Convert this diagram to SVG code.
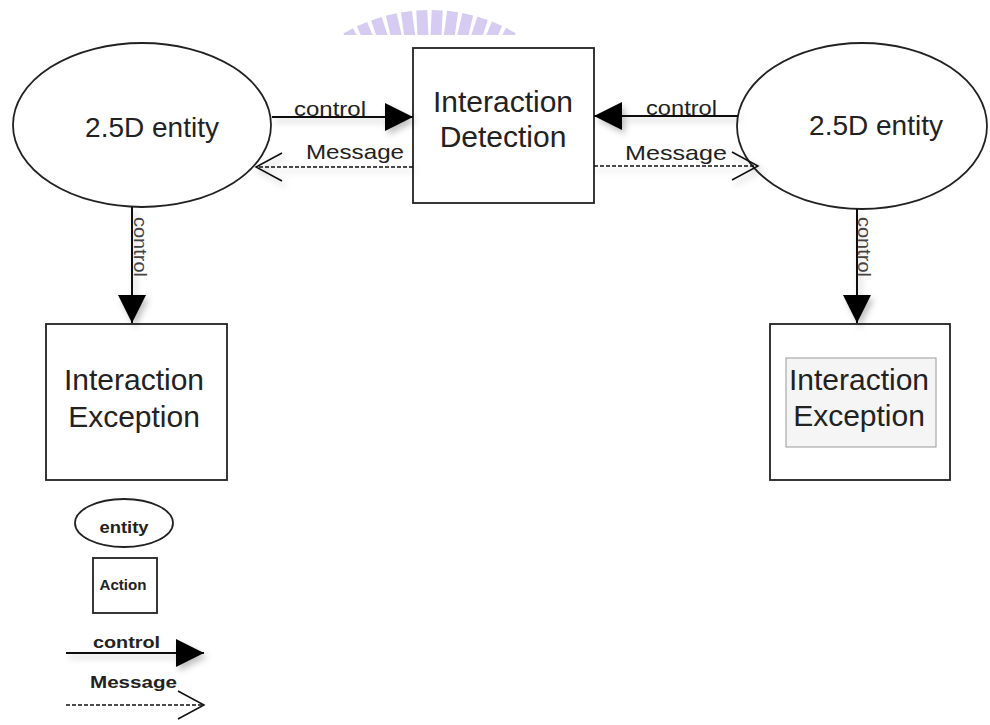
<svg xmlns="http://www.w3.org/2000/svg" width="990" height="725" viewBox="0 0 990 725">
<style>
  .txt { font-family: "Liberation Sans", Arial, sans-serif; fill: #222; }
  .big { font-size: 30px; }
  .mid { font-size: 28px; }
  .lbl { font-size: 21px; }
  .vlbl { font-size: 18px; fill: #444; }
  .leg { font-weight: bold; }
  .shape { fill: #fff; stroke: #222; stroke-width: 1.8; }
  .ctl { stroke: #111; stroke-width: 2; fill: none; marker-end: url(#solid); }
  .msg { stroke: #111; stroke-width: 1.5; stroke-dasharray: 4 2; fill: none; marker-end: url(#open); }
  .wm { fill: #d6cbf1; }
</style>
<defs>
  <marker id="solid" markerUnits="userSpaceOnUse" markerWidth="30" markerHeight="30" refX="28" refY="14" orient="auto" viewBox="0 0 30 30">
    <path d="M0,0 L28,14 L0,28 Z" fill="#000"/>
  </marker>
  <marker id="open" markerUnits="userSpaceOnUse" markerWidth="30" markerHeight="32" refX="27" refY="15" orient="auto" viewBox="0 0 30 32">
    <path d="M1,1 L27,15 L1,29" fill="none" stroke="#111" stroke-width="1.5"/>
  </marker>
  <filter id="shadow" filterUnits="userSpaceOnUse" x="0" y="0" width="990" height="725">
    <feDropShadow dx="3" dy="4" stdDeviation="3" flood-color="#000" flood-opacity="0.25"/>
  </filter>
  <clipPath id="wmclip"><rect x="300" y="0" width="260" height="35"/></clipPath>
</defs>
<rect width="990" height="725" fill="#fff"/>

<g id="watermark" clip-path="url(#wmclip)">
  <rect class="wm" x="424" y="10" width="11" height="30" transform="rotate(-28.6 430 180)"/>
  <rect class="wm" x="424" y="10" width="11" height="30" transform="rotate(-23.4 430 180)"/>
  <rect class="wm" x="424" y="10" width="11" height="30" transform="rotate(-18.2 430 180)"/>
  <rect class="wm" x="424" y="10" width="11" height="30" transform="rotate(-13 430 180)"/>
  <rect class="wm" x="424" y="10" width="11" height="30" transform="rotate(-7.8 430 180)"/>
  <rect class="wm" x="424" y="10" width="11" height="30" transform="rotate(-2.6 430 180)"/>
  <rect class="wm" x="424" y="10" width="11" height="30" transform="rotate(2.6 430 180)"/>
  <rect class="wm" x="424" y="10" width="11" height="30" transform="rotate(7.8 430 180)"/>
  <rect class="wm" x="424" y="10" width="11" height="30" transform="rotate(13 430 180)"/>
  <rect class="wm" x="424" y="10" width="11" height="30" transform="rotate(18.2 430 180)"/>
  <rect class="wm" x="424" y="10" width="11" height="30" transform="rotate(23.4 430 180)"/>
  <rect class="wm" x="424" y="10" width="11" height="30" transform="rotate(28.6 430 180)"/>
</g>

<g id="entity-left">
  <ellipse class="shape" cx="142" cy="125" rx="129" ry="82"/>
  <text class="txt mid" x="152" y="137" text-anchor="middle">2.5D entity</text>
</g>
<g id="interaction-detection">
  <rect class="shape" x="413" y="48" width="181" height="155"/>
  <text class="txt big" x="503" y="112" text-anchor="middle">Interaction</text>
  <text class="txt big" x="503" y="147" text-anchor="middle">Detection</text>
</g>
<g id="entity-right">
  <ellipse class="shape" cx="862" cy="126" rx="125" ry="83"/>
  <text class="txt mid" x="876" y="135" text-anchor="middle">2.5D entity</text>
</g>
<g id="exception-left">
  <rect class="shape" x="46" y="324" width="181" height="156"/>
  <text class="txt big" x="134" y="390" text-anchor="middle">Interaction</text>
  <text class="txt big" x="134" y="427" text-anchor="middle">Exception</text>
</g>
<g id="exception-right">
  <rect class="shape" x="770" y="324" width="180" height="156"/>
  <rect x="786" y="358" width="150" height="89" fill="#f5f5f5" stroke="#999" stroke-width="1"/>
  <text class="txt big" x="859" y="390" text-anchor="middle">Interaction</text>
  <text class="txt big" x="859" y="426" text-anchor="middle">Exception</text>
</g>

<g id="connectors">
  <g filter="url(#shadow)">
    <line class="ctl" x1="272" y1="117" x2="413" y2="117"/>
    <line class="ctl" x1="738" y1="116" x2="594" y2="116"/>
    <line class="msg" x1="413" y1="167" x2="256" y2="167"/>
    <line class="msg" x1="594" y1="166" x2="758" y2="166"/>
    <line class="ctl" x1="132" y1="207" x2="132" y2="323"/>
    <line class="ctl" x1="857" y1="209" x2="857" y2="323"/>
  </g>
  <text class="txt lbl" x="294" y="116" textLength="72" lengthAdjust="spacingAndGlyphs">control</text>
  <text class="txt lbl" x="306" y="159" textLength="98" lengthAdjust="spacingAndGlyphs">Message</text>
  <text class="txt lbl" x="646" y="115" textLength="71" lengthAdjust="spacingAndGlyphs">control</text>
  <text class="txt lbl" x="625" y="160" textLength="102" lengthAdjust="spacingAndGlyphs">Message</text>
  <text class="txt vlbl" x="0" y="0" transform="translate(134 217) rotate(90)" textLength="60" lengthAdjust="spacingAndGlyphs">control</text>
  <text class="txt vlbl" x="0" y="0" transform="translate(858 217) rotate(90)" textLength="60" lengthAdjust="spacingAndGlyphs">control</text>
</g>

<g id="legend">
  <g id="legend-entity">
    <ellipse class="shape" cx="124" cy="523" rx="49" ry="24"/>
    <text class="txt leg" x="124" y="533" font-size="16" text-anchor="middle" textLength="49" lengthAdjust="spacingAndGlyphs">entity</text>
  </g>
  <g id="legend-action">
    <rect class="shape" x="93" y="558" width="64" height="55"/>
    <text class="txt leg" x="123" y="590" font-size="14" text-anchor="middle" textLength="47" lengthAdjust="spacingAndGlyphs">Action</text>
  </g>
  <g id="legend-control">
    <line class="ctl" x1="66" y1="653" x2="204" y2="653" filter="url(#shadow)"/>
    <text class="txt leg" x="93" y="648" font-size="16" textLength="67" lengthAdjust="spacingAndGlyphs">control</text>
  </g>
  <g id="legend-message">
    <line class="msg" x1="66" y1="705" x2="204" y2="705"/>
    <text class="txt leg" x="90" y="688" font-size="17" textLength="87" lengthAdjust="spacingAndGlyphs">Message</text>
  </g>
</g>
</svg>
